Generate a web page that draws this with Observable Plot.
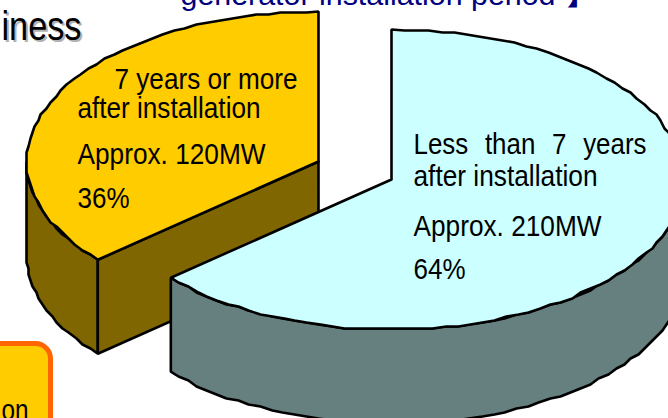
<!DOCTYPE html>
<html>
<head>
<meta charset="utf-8">
<script src="https://cdn.jsdelivr.net/npm/d3@7"></script>
<script src="https://cdn.jsdelivr.net/npm/@observablehq/plot@0.6"></script>
<style>
  html, body { margin: 0; padding: 0; background: #fff; overflow: hidden; }
  svg { display: block; }
</style>
</head>
<body>
<div id="chart"></div>
<script>
// Generator capacity split by time since installation
const categories = ["7 years or more", "Less than 7 years"];
const megawatts = [120, 210];
const percents = [36, 64];
const topFill = ["#FFCC00", "#CCFFFF"];
const sideFill = ["#806600", "#667F7F"];

// Pie geometry, in the chart's coordinate system
const radiusX = 292, radiusY = 150, depth = 94;
const centres = [[318, 161], [391, 179]];
const total = d3.sum(megawatts);
const split = (megawatts[1] / total) * 360; // clockwise from twelve o'clock
const sweeps = [[split, 360], [0, split]];

const rim = ([cx, cy], deg) => {
  const a = (deg * Math.PI) / 180;
  return [cx + radiusX * Math.sin(a), cy - radiusY * Math.cos(a)];
};
// Arc outline, snapped to a coarse grid so the edge has a metafile-like stepping
const arc = (centre, from, to) => {
  const n = Math.ceil(Math.abs(to - from) / 2.5);
  return d3.range(n + 1).map((i) => {
    const p = rim(centre, from + ((to - from) * i) / n);
    return i === 0 || i === n ? p : [Math.round(p[0] / 2) * 2, Math.round(p[1] / 2) * 2];
  });
};
const shift = (pts) => pts.map(([x, y]) => [x, y + depth]);
const closed = (pts) => [...pts, pts[0]];
const wedge = (i) => closed([centres[i], ...arc(centres[i], ...sweeps[i])]);
const wall = (i, from, to) => {
  const a = arc(centres[i], from, to);
  return closed([...a, ...shift(a).reverse()]);
};
const cutFace = closed([
  centres[0],
  rim(centres[0], split),
  shift([rim(centres[0], split)])[0],
  shift([centres[0]])[0]
]);

const outline = (pts, fill) =>
  Plot.line(pts, {
    x: "0", y: "1", fill, stroke: "#000", strokeWidth: 2.6,
    strokeLinejoin: "miter", curve: "linear"
  });

// Labels: [text, left edge, baseline, fitted width]
const sliceLabels = [
  [categories[0], 114, 88, 183],
  ["after installation", 77, 117, 183],
  [`Approx. ${megawatts[0]}MW`, 77, 163, 188],
  [`${percents[0]}%`, 77, 207, 52],
  [categories[1], 413, 153, 233],
  ["after installation", 413, 185, 184],
  [`Approx. ${megawatts[1]}MW`, 413, 235, 188],
  [`${percents[1]}%`, 413, 278, 52]
];
const headingLabels = [["generator installation period", 180, 4, 375]];
const titleLabels = [["iness", 1, 39, 80]];
const boxLabels = [["on", 1, 419, 27]];

const label = (rows, opts) =>
  Plot.text(rows, {
    x: "1", y: "2", text: "0", textAnchor: "start", lineAnchor: "bottom",
    fontFamily: "Liberation Sans", ...opts
  });

const chart = Plot.plot({
  width: 668, height: 418,
  margin: 0,
  x: { domain: [0, 668], range: [0, 668], axis: null },
  y: { domain: [0, 418], range: [0, 418], axis: null },
  marks: [
    // Headline fragments running off the top of the slide
    label(titleLabels.map(([t, x, y, w]) => [t, x + 2, y + 2, w]), { fill: "#B2B2B2", fontSize: 41 }),
    label(titleLabels, { fill: "#000", fontSize: 41 }),
    label(headingLabels, { fill: "#000080", fontSize: 29 }),
    Plot.text(["】"], {
      x: [581], y: [4], text: (d) => d, textAnchor: "middle", lineAnchor: "bottom",
      fill: "#000080", fontSize: 29, fontWeight: "bold", fontFamily: "Noto Sans CJK JP"
    }),
    // Call-out box at the lower left
    Plot.rect([0], {
      x1: () => -30, x2: () => 50.5, y1: () => 343.5, y2: () => 450,
      fill: "#FFCC00", stroke: "#FF6600", strokeWidth: 5, rx: 15
    }),
    label(boxLabels, { fill: "#000", fontSize: 29 }),
    // Older capacity: pulled-out wedge, sides first
    outline(wall(0, split, 270), sideFill[0]),
    outline(cutFace, sideFill[0]),
    outline(wedge(0), topFill[0]),
    // Newer capacity
    outline(wall(1, 90, split), sideFill[1]),
    outline(wedge(1), topFill[1]),
    label(sliceLabels, { fill: "#000", fontSize: 30 })
  ]
});
document.getElementById("chart").append(chart);

// Squeeze each label to its set width, as the stretched slide text is narrow
const allText = [...chart.querySelectorAll("text")];
const squeeze = (node, width) => {
  node.setAttribute("textLength", width);
  node.setAttribute("lengthAdjust", "spacingAndGlyphs");
};
const find = (s) => allText.filter((n) => n.textContent === s);
find("iness").forEach((n) => squeeze(n, titleLabels[0][3]));
find(headingLabels[0][0]).forEach((n) => squeeze(n, headingLabels[0][3]));
find(boxLabels[0][0]).forEach((n) => squeeze(n, boxLabels[0][3]));
find(categories[1]).forEach((n) => (n.style.wordSpacing = "11px"));
sliceLabels.forEach((row) => {
  const node = allText.find((n) => n.textContent === row[0] && !n.hasAttribute("textLength"));
  if (node) squeeze(node, row[3]);
});
</script>
</body>
</html>
